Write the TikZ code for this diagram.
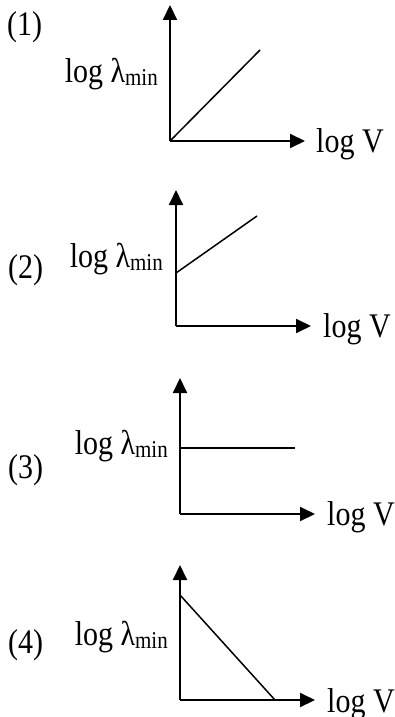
\documentclass[tikz,border=0pt]{standalone}
\usepackage{fontspec}
\setmainfont{Liberation Serif}
\usetikzlibrary{arrows.meta}
\tikzset{
  axis/.style={line width=2pt, -{Triangle[length=15pt,width=14pt]}},
  graph/.style={line width=1.5pt},
  lbl/.style={inner sep=0pt, font=\fontsize{30}{36}\selectfont, yscale=1.15},
}
\newcommand{\loglam}{log λ\raisebox{-0.25ex}{\fontsize{21}{25}\selectfont min}}

\begin{document}
\begin{tikzpicture}[x=1pt,y=-1pt]%
\useasboundingbox (0,0) rectangle (394,717);%
% (1)
\coordinate (o1) at (170,141);%
\coordinate (y1) at (170,5);%
\coordinate (x1) at (305,141);%
\coordinate (e1) at (260,50);%
\draw[axis] (o1) -- (y1);%
\draw[axis] (o1) -- (x1);%
\draw[graph] (o1) -- (e1);%
\node[lbl, anchor=base west] (n1) at (7,36) {(1)};%
\node[lbl, anchor=base east] (ly1) at (158,82) {\loglam};%
\node[lbl, anchor=base west] (lx1) at (316,152) {log V};%
% (2)
\coordinate (o2) at (176,326);%
\coordinate (y2) at (176,190);%
\coordinate (x2) at (311,326);%
\coordinate (s2) at (176,273);%
\coordinate (e2) at (257,216);%
\draw[axis] (o2) -- (y2);%
\draw[axis] (o2) -- (x2);%
\draw[graph] (s2) -- (e2);%
\node[lbl, anchor=base west] (n2) at (8,278) {(2)};%
\node[lbl, anchor=base east] (ly2) at (163,267) {\loglam};%
\node[lbl, anchor=base west] (lx2) at (323,337) {log V};%
% (3)
\coordinate (o3) at (180,514);%
\coordinate (y3) at (180,378);%
\coordinate (x3) at (315,514);%
\coordinate (s3) at (180,448);%
\coordinate (e3) at (295,448);%
\draw[axis] (o3) -- (y3);%
\draw[axis] (o3) -- (x3);%
\draw[graph] (s3) -- (e3);%
\node[lbl, anchor=base west] (n3) at (8,478) {(3)};%
\node[lbl, anchor=base east] (ly3) at (168,454) {\loglam};%
\node[lbl, anchor=base west] (lx3) at (327,525) {log V};%
% (4)
\coordinate (o4) at (180,700);%
\coordinate (y4) at (180,565);%
\coordinate (x4) at (315,700);%
\coordinate (s4) at (180,595);%
\coordinate (e4) at (275,700);%
\draw[axis] (o4) -- (y4);%
\draw[axis] (o4) -- (x4);%
\draw[graph] (s4) -- (e4);%
\node[lbl, anchor=base west] (n4) at (8,653) {(4)};%
\node[lbl, anchor=base east] (ly4) at (168,645) {\loglam};%
\node[lbl, anchor=base west] (lx4) at (327,712) {log V};%
\end{tikzpicture}
\end{document}
